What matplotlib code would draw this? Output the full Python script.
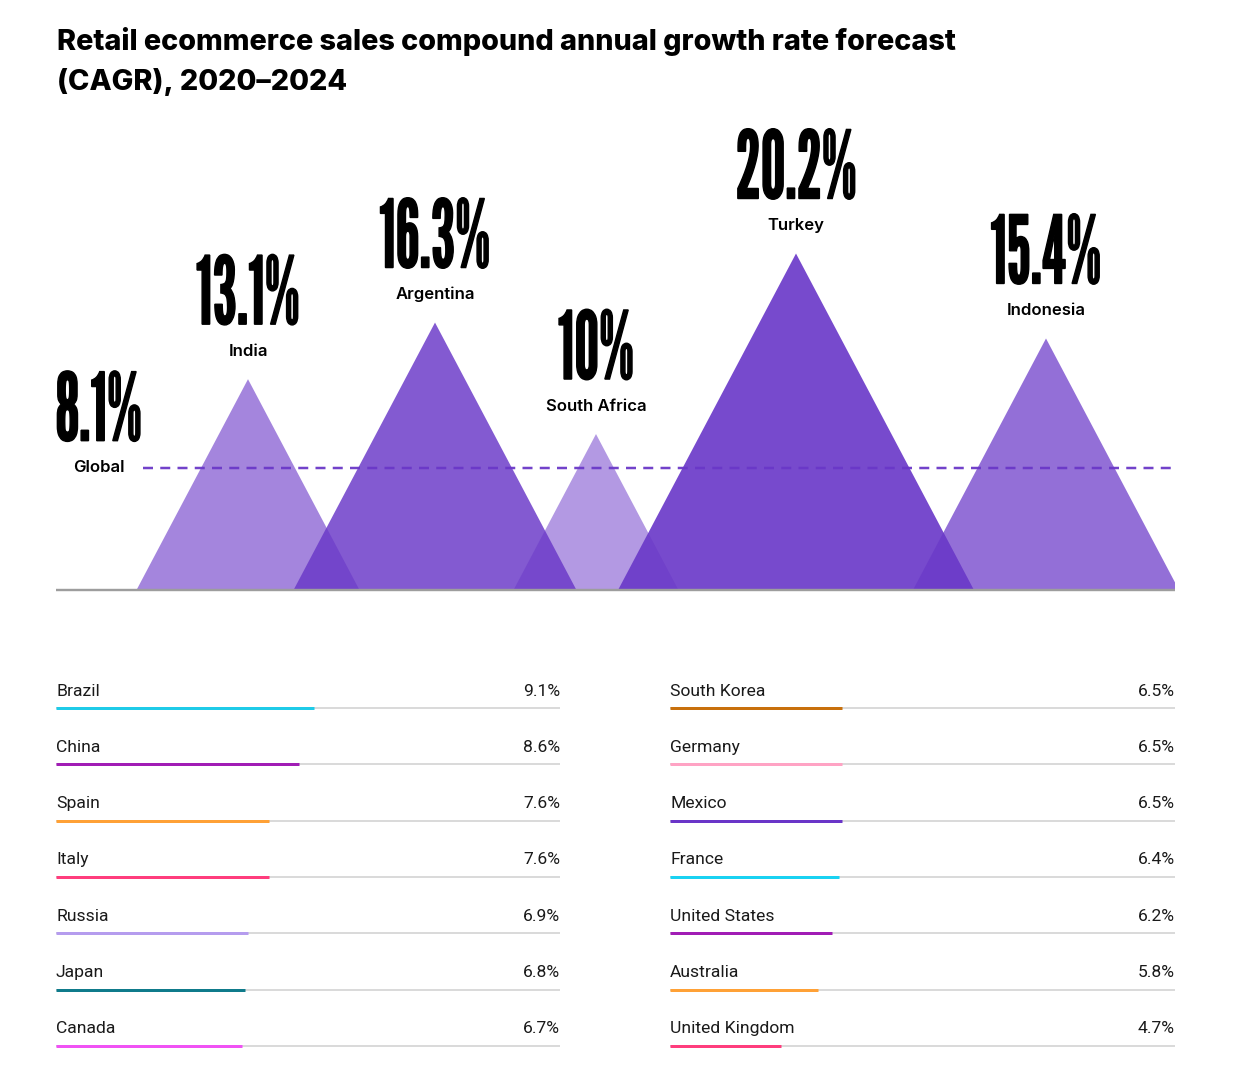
import matplotlib
matplotlib.use("Agg")
import matplotlib.pyplot as plt
from matplotlib import font_manager as fm
from matplotlib.patheffects import AbstractPathEffect
from matplotlib.transforms import Affine2D
from matplotlib.textpath import TextPath
from matplotlib.font_manager import FontProperties

# ---------------- data ----------------
title_lines = ["Retail ecommerce sales compound annual growth rate forecast",
               "(CAGR), 2020\u20132024"]
global_label = "Global"
global_value = 8.1
peak_countries = ["India", "Argentina", "South Africa", "Turkey", "Indonesia"]
peak_values = [13.1, 16.3, 10.0, 20.2, 15.4]
left_countries = ["Brazil", "China", "Spain", "Italy", "Russia", "Japan", "Canada"]
left_values = [9.1, 8.6, 7.6, 7.6, 6.9, 6.8, 6.7]
right_countries = ["South Korea", "Germany", "Mexico", "France",
                   "United States", "Australia", "United Kingdom"]
right_values = [6.5, 6.5, 6.5, 6.4, 6.2, 5.8, 4.7]

# ---------------- layout / style ----------------
W, H, DPI = 1252, 1084, 100
PX = 72.0 / DPI                       # points per pixel
peak_x = [192, 379, 540, 740, 990]    # peak centres, px from left end of baseline
peak_alpha = [0.61, 0.83, 0.51, 0.91, 0.72]
PURPLE = "#6a38c8"
left_colors = ["#1fcbe8", "#a11db5", "#ffa136", "#ff3d7d", "#b59cee", "#0f7b8b", "#f052f4"]
right_colors = ["#c8700c", "#ffa3c4", "#6a35c8", "#19d2f2", "#a11db5", "#ffa136", "#ff3d7d"]

installed = {f.name for f in fm.fontManager.ttflist}
def pick(cands, default="DejaVu Sans"):
    for c in cands:
        if c in installed:
            return c
    return default

TITLE_FONT = pick(["Inter", "Roboto", "Lato"])
NAME_FONT = pick(["Inter", "Roboto", "Lato"])
LIST_FONT = pick(["Roboto", "Inter", "Lato"])
BIG_FONT = pick(["League Gothic", "Antonio", "Oswald", "Roboto Condensed", "Liberation Sans"])
BIG_WEIGHT = "normal" if BIG_FONT == "League Gothic" else "bold"

def fx(x):
    return x / W

def fy(y):
    return 1 - y / H


class Condense(AbstractPathEffect):
    """Draw text glyphs squeezed horizontally (about their centre) and lightly stroked."""
    def __init__(self, sx, lw_pt=0.0):
        super().__init__()
        self.sx = sx
        self.lw = lw_pt

    def draw_path(self, renderer, gc, tpath, affine, rgbFace=None):
        ext = tpath.get_extents(affine)
        cx = 0.5 * (ext.x0 + ext.x1)
        aff = affine + Affine2D().translate(-cx, 0).scale(self.sx, 1.0).translate(cx, 0)
        gc0 = renderer.new_gc()
        gc0.copy_properties(gc)
        if self.lw > 0 and rgbFace is not None:
            gc0.set_linewidth(self.lw)
            gc0.set_foreground(rgbFace)
            gc0.set_joinstyle("miter")
        else:
            gc0.set_linewidth(0)
        renderer.draw_path(gc0, tpath, aff, rgbFace)
        gc0.restore()


# big-number font sizing
big_fp = FontProperties(family=BIG_FONT, weight=BIG_WEIGHT)
LW_PX = 1.4
h1 = TextPath((0, 0), "0", size=1, prop=big_fp).get_extents().height
big_px = (72 - LW_PX) / h1
big_pt = big_px * PX
w_nat = TextPath((0, 0), "13.1%", size=big_px, prop=big_fp).get_extents().width
SX = min(1.0, (102 - LW_PX) / w_nat)
big_effect = [Condense(SX, LW_PX * PX)]

fig = plt.figure(figsize=(W / DPI, H / DPI), dpi=DPI)
fig.patch.set_facecolor("white")

# ---------------- title ----------------
for line, base in zip(title_lines, (50, 90)):
    fig.text(fx(57), fy(base), line, fontsize=20.75, fontweight=800,
             family=TITLE_FONT, va="baseline", ha="left", color="#000000")

# ---------------- mountains ----------------
Y0 = 1.19            # value at the visible baseline
PX_PER_PCT = 17.7
ax = fig.add_axes([fx(56), fy(590), (1175 - 56) / W, (590 - 100) / H])
ax.set_xlim(0, 1119)
ax.set_ylim(Y0, Y0 + 490 / PX_PER_PCT)
ax.axis("off")
HW = 9.36            # half-width (x units) per % at the triangle foot
for x, v, a in zip(peak_x, peak_values, peak_alpha):
    ax.fill([x - HW * v, x, x + HW * v], [0, v, 0], color=PURPLE, alpha=a, lw=0, zorder=2)

ax.plot([0, 1], [0, 0], transform=ax.transAxes, color="#9d9d9d", lw=2.4 * PX,
        clip_on=False, zorder=4, solid_capstyle="butt")
ax.plot([87, 1119], [global_value, global_value], color=PURPLE, lw=2.5 * PX,
        dashes=(4.0, 2.9), zorder=5, alpha=0.95, dash_capstyle="butt")

for x, v, name in zip(peak_x, peak_values, peak_countries):
    ax.annotate(name, (x, v), xytext=(0, 28 * PX), textcoords="offset points",
                ha="center", va="center", fontsize=12, fontweight="semibold",
                family=NAME_FONT, color="#000000")
    ax.annotate(f"{v:g}%", (x, v), xytext=(0, 55 * PX), textcoords="offset points",
                ha="center", va="baseline", fontsize=big_pt, fontweight=BIG_WEIGHT,
                family=BIG_FONT, color="black", path_effects=big_effect)

ax.annotate(global_label, (43, global_value), ha="center", va="center", fontsize=12,
            fontweight="semibold", family=NAME_FONT, color="#000000")
ax.annotate(f"{global_value:g}%", (43, global_value), xytext=(0, 27 * PX),
            textcoords="offset points", ha="center", va="baseline", fontsize=big_pt,
            fontweight=BIG_WEIGHT, family=BIG_FONT, color="black", path_effects=big_effect)

# ---------------- lists ----------------
ROW = 56.33
def list_axes(x0, x1, names, vals, cols, xlim):
    a = fig.add_axes([fx(x0), fy(708 + 6.5 * ROW), (x1 - x0) / W, 7.5 * ROW / H])
    a.set_xlim(*xlim)
    a.set_ylim(6.5, -1)
    a.axis("off")
    for i, (n, v, c) in enumerate(zip(names, vals, cols)):
        a.axhline(i, color="#d2d2d2", lw=1.6 * PX, zorder=1)
        a.hlines(i, xlim[0], v, color=c, lw=3.0 * PX, zorder=2)
        a.annotate(n, xy=(0, i), xycoords=("axes fraction", "data"), xytext=(0, 17 * PX),
                   textcoords="offset points", ha="left", va="center", fontsize=12.6,
                   family=LIST_FONT, color="#1a1a1a")
        a.annotate(f"{v:.1f}%", xy=(1, i), xycoords=("axes fraction", "data"),
                   xytext=(0, 17 * PX), textcoords="offset points", ha="right",
                   va="center", fontsize=12.6, family=LIST_FONT, color="#1a1a1a")
    return a

list_axes(56, 560, left_countries, left_values, left_colors, (0.45, 17.37))
list_axes(670, 1175, right_countries, right_values, right_colors, (1.40, 16.37))

fig.savefig("out.png", dpi=DPI, facecolor="white")
